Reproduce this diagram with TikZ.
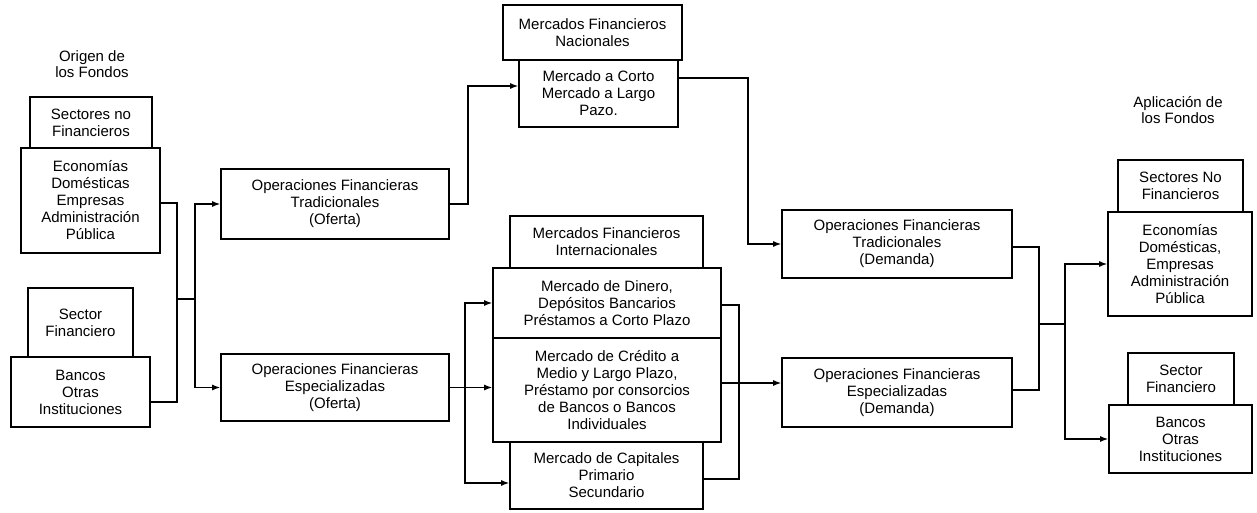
\documentclass[tikz,border=0pt]{standalone}
\usepackage{fontspec}
\setmainfont{Liberation Sans}
\usetikzlibrary{arrows.meta}
\begin{document}
\begin{tikzpicture}[x=1pt,y=1pt,
  box/.style={draw, line width=1.6pt, inner sep=0pt, align=center, font=\fontsize{15}{17}\selectfont},
  lbl/.style={inner sep=0pt, align=center, font=\fontsize{15}{16}\selectfont},
  conn/.style={line width=1.4pt},
  arr/.style={line width=1.4pt, -{Latex[length=8pt,width=6pt]}}]
\useasboundingbox (0,0) rectangle (1257,-513);
% left column
\node[lbl] (origen) at (92,-64) {Origen de\\los Fondos};
\node[box, minimum width=122, minimum height=51] (sn1) at (91,-122.5) {Sectores no\\Financieros};
\node[box, minimum width=139, minimum height=105] (ec1) at (90.5,-200.5) {Economías\\Domésticas\\Empresas\\Administración\\Pública};
\node[box, minimum width=105, minimum height=69] (sf1) at (80.5,-322.5) {Sector\\Financiero};
\node[box, minimum width=139, minimum height=70] (bo1) at (80.5,-392) {Bancos\\Otras\\Instituciones};
% offer operations
\node[box, minimum width=228, minimum height=70] (oto) at (335,-204) {Operaciones Financieras\\Tradicionales\\(Oferta)};
\node[box, minimum width=228, minimum height=67] (oeo) at (335,-387.5) {Operaciones Financieras\\Especializadas\\(Oferta)};
% markets
\node[box, minimum width=179, minimum height=55] (mfn) at (592.5,-32.5) {Mercados Financieros\\Nacionales};
\node[box, minimum width=159, minimum height=67] (mcl) at (598.5,-93.5) {Mercado a Corto\\Mercado a Largo\\Pazo.};
\node[box, minimum width=193, minimum height=52] (mfi) at (606.5,-242) {Mercados Financieros\\Internacionales};
\node[box, minimum width=228, minimum height=70] (mdd) at (607,-303) {Mercado de Dinero,\\Depósitos Bancarios\\Préstamos a Corto Plazo};
\node[box, minimum width=228, minimum height=104] (mdc) at (607,-390) {Mercado de Crédito a\\Medio y Largo Plazo,\\Préstamo por consorcios\\de Bancos o Bancos\\Individuales};
\node[box, minimum width=193, minimum height=67] (mdk) at (606.5,-475.5) {Mercado de Capitales\\Primario\\Secundario};
% demand operations
\node[box, minimum width=230, minimum height=68] (otd) at (897,-244) {Operaciones Financieras\\Tradicionales\\(Demanda)};
\node[box, minimum width=230, minimum height=69] (oed) at (897,-392.5) {Operaciones Financieras\\Especializadas\\(Demanda)};
% right column
\node[lbl] (apl) at (1178,-110) {Aplicación de\\los Fondos};
\node[box, minimum width=125, minimum height=52] (sn2) at (1180.5,-186) {Sectores No\\Financieros};
\node[box, minimum width=144, minimum height=104] (ec2) at (1180,-264) {Economías\\Domésticas,\\Empresas\\Administración\\Pública};
\node[box, minimum width=106, minimum height=52] (sf2) at (1181,-379) {Sector\\Financiero};
\node[box, minimum width=143, minimum height=68] (bo2) at (1180.5,-439) {Bancos\\Otras\\Instituciones};
% connector points
\coordinate (j1) at (177,-299);
\coordinate (j2) at (195,-299);
\coordinate (k1) at (468,-86);
\coordinate (k2) at (748,-78);
\coordinate (k3) at (465,-387.5);
\coordinate (k4) at (739,-383);
\coordinate (r1) at (1039,-324);
\coordinate (r2) at (1065,-324);
% left connectors
\draw[conn] ([yshift=-2.5]ec1.east) -| (j1) |- ([yshift=-10]bo1.east);
\draw[conn] (j1) -- (j2);
\draw[arr] (j2) |- (oto.west);
\draw[arr] (j2) |- (oeo.west);
% offer to markets
\draw[arr] (oto.east) -| (k1) -- (mcl.west|-k1);
\draw[arr] (oeo.east) -- (mdc.west|-oeo.east);
\draw[arr] (k3) |- (mdd.west);
\draw[arr] (k3) |- ([yshift=-7.5]mdk.west);
% markets to demand
\draw[arr] (mcl.east|-k2) -- (k2) |- (otd.west);
\draw[conn] ([yshift=-2]mdd.east) -| (k4) |- ([yshift=-3.5]mdk.east);
\draw[arr] (mdc.east|-k4) -- (oed.west|-k4);
% demand to application
\draw[conn] ([yshift=-3]otd.east) -| (r1) |- ([yshift=2.5]oed.east);
\draw[conn] (r1) -- (r2);
\draw[arr] (r2) |- (ec2.west);
\draw[arr] (r2) |- (bo2.west);
\end{tikzpicture}
\end{document}
